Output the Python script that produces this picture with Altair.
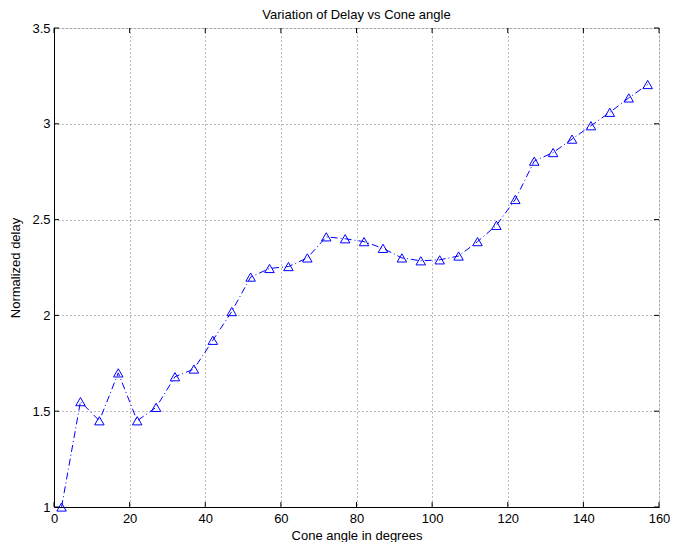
import altair as alt
import pandas as pd

angles = [2, 7, 12, 17, 22, 27, 32, 37, 42, 47, 52, 57, 62, 67, 72, 77,
          82, 87, 92, 97, 102, 107, 112, 117, 122, 127, 132, 137, 142, 147, 152, 157]
delay = [1.00, 1.55, 1.45, 1.70, 1.45, 1.52, 1.68, 1.72, 1.87, 2.02, 2.20, 2.245,
         2.255, 2.30, 2.41, 2.40, 2.385, 2.35, 2.30, 2.285, 2.29, 2.31, 2.385, 2.47,
         2.605, 2.805, 2.85, 2.92, 2.99, 3.06, 3.135, 3.205]
x_ticks = [0, 20, 40, 60, 80, 100, 120, 140, 160]
y_ticks = [1, 1.5, 2, 2.5, 3, 3.5]

W, H = 605, 479
FONT = "Liberation Sans"
FS = 13

df = pd.DataFrame({"angle": angles, "delay": delay})
xt = pd.DataFrame({"t": x_ticks})
yt = pd.DataFrame({"t": y_ticks})

xscale = alt.Scale(domain=[0, 160], nice=False, zero=False)
yscale = alt.Scale(domain=[1, 3.5], nice=False, zero=False)

xaxis = alt.Axis(values=x_ticks, title="Cone angle in degrees", grid=True, ticks=False,
                 gridDash=[1, 3], gridColor="#555555", gridOpacity=0.8,
                 domainColor="black", labelFont=FONT, labelFontSize=FS, labelColor="black",
                 titleFont=FONT, titleFontSize=FS, titleFontWeight="normal", titleColor="black",
                 labelPadding=5, titlePadding=4, format="d", labelFlush=False,
                 labelOverlap=False)
yaxis = alt.Axis(values=y_ticks, title="Normalized delay", grid=True, ticks=False,
                 gridDash=[1, 3], gridColor="#555555", gridOpacity=0.8,
                 domainColor="black", labelFont=FONT, labelFontSize=FS, labelColor="black",
                 titleFont=FONT, titleFontSize=FS, titleFontWeight="normal", titleColor="black",
                 labelPadding=4, titlePadding=9, format="~g", labelFlush=False,
                 labelOverlap=False)

line = alt.Chart(df).mark_line(color="blue", strokeDash=[7, 3, 1, 3], strokeWidth=1).encode(
    x=alt.X("angle:Q", scale=xscale, axis=xaxis),
    y=alt.Y("delay:Q", scale=yscale, axis=yaxis),
)
pts = alt.Chart(df).mark_point(shape="triangle-up", filled=False, color="blue",
                               size=90, strokeWidth=1, opacity=1).encode(
    x=alt.X("angle:Q", scale=xscale),
    y=alt.Y("delay:Q", scale=yscale),
)

tb = alt.Chart(xt).mark_rule(color="black").encode(
    x=alt.X("t:Q", scale=xscale), y=alt.value(H), y2=alt.value(H - 5))
tt = alt.Chart(xt).mark_rule(color="black").encode(
    x=alt.X("t:Q", scale=xscale), y=alt.value(0), y2=alt.value(5))
tl = alt.Chart(yt).mark_rule(color="black").encode(
    y=alt.Y("t:Q", scale=yscale), x=alt.value(0), x2=alt.value(5))
tr = alt.Chart(yt).mark_rule(color="black").encode(
    y=alt.Y("t:Q", scale=yscale), x=alt.value(W), x2=alt.value(W - 5))

chart = alt.layer(line, pts, tb, tt, tl, tr).properties(
    width=W, height=H,
    title=alt.TitleParams("Variation of Delay vs Cone angle", font=FONT, fontSize=FS,
                          fontWeight="normal", color="black", offset=0),
    autosize=alt.AutoSizeParams(type="none"),
    padding={"left": 46, "top": 20, "right": 11, "bottom": 35},
).configure_view(stroke="black", strokeWidth=1).configure(background="white")

chart.save("out.html", embed_options={"renderer": "svg", "actions": False})
